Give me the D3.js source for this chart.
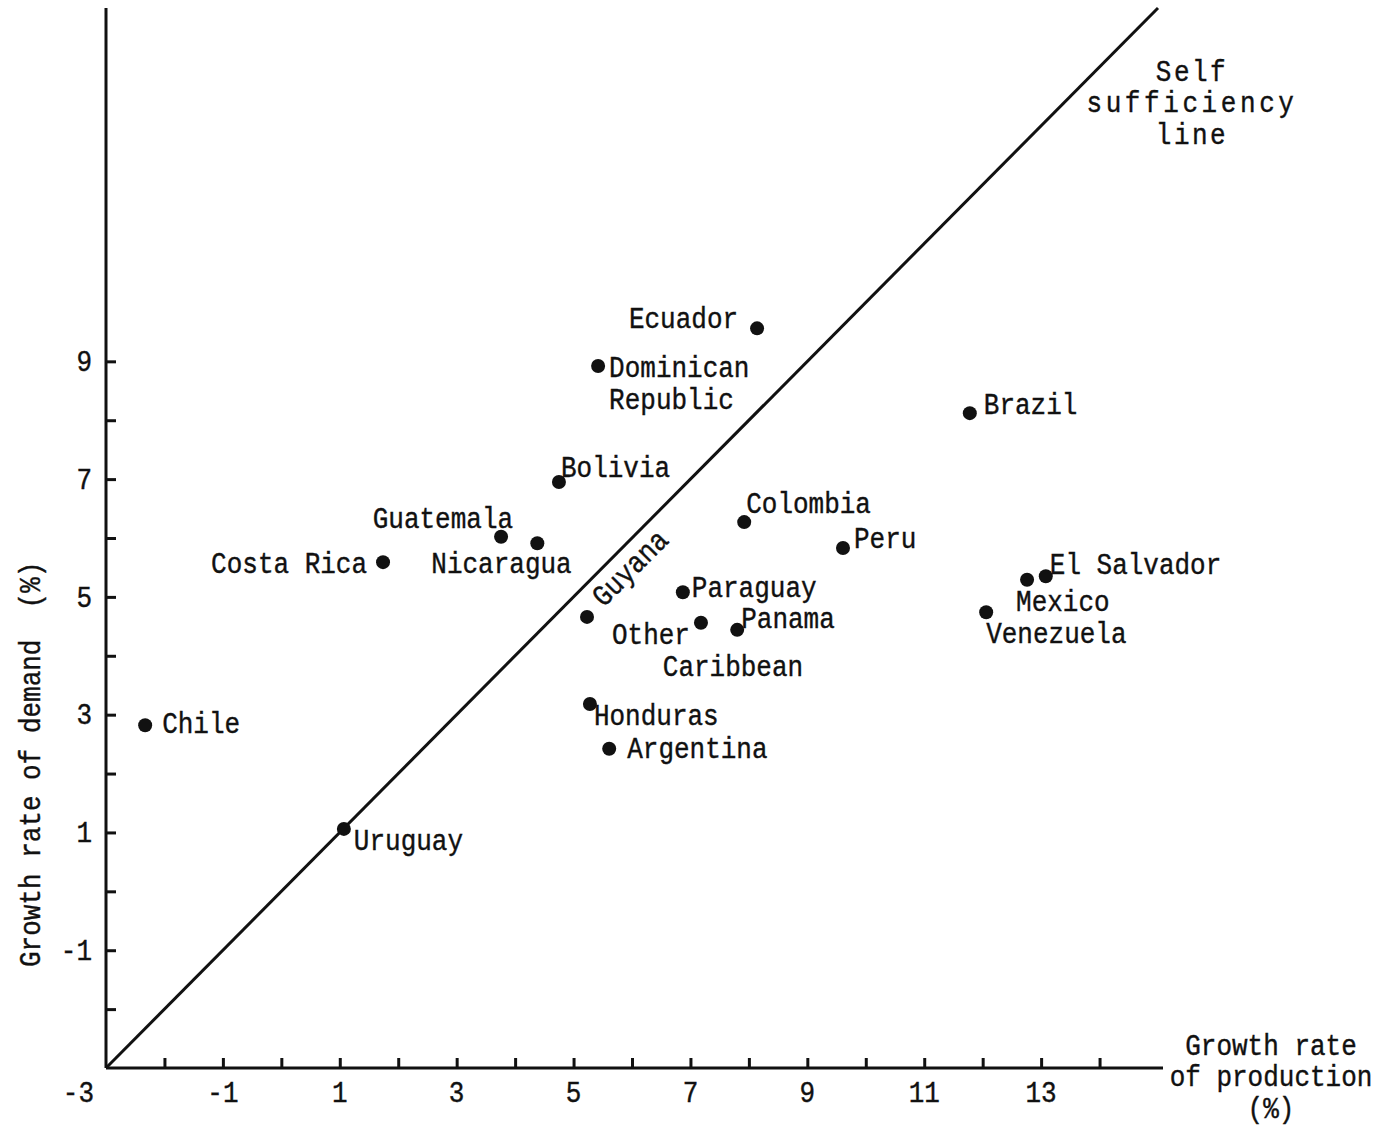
<!DOCTYPE html>
<html>
<head>
<meta charset="utf-8">
<script src="https://cdn.jsdelivr.net/npm/d3@7"></script>
<style>
  html, body { margin: 0; padding: 0; background: #fff; }
  svg { display: block; }
  text { font-family: "Liberation Mono", "DejaVu Sans Mono", monospace; fill: #111; stroke: #111; stroke-width: 0.35px; }
</style>
</head>
<body>
<svg id="chart" width="1383" height="1126"></svg>
<script>
// ---- data ----
const countries = ["Chile","Uruguay","Costa Rica","Guatemala","Nicaragua","Bolivia","Dominican\nRepublic","Ecuador","Guyana","Honduras","Argentina","Paraguay","Other\nCaribbean","Panama","Colombia","Peru","Brazil","Mexico","El Salvador","Venezuela"];
const production = [-2.33, 1.07, 1.74, 3.76, 4.38, 4.75, 5.42, 8.14, 5.23, 5.28, 5.61, 6.87, 7.18, 7.80, 7.92, 9.61, 11.78, 12.76, 13.08, 12.06];
const demand     = [ 2.82, 1.06, 5.59, 6.02, 5.91, 6.95, 8.92, 9.56, 4.66, 3.18, 2.42, 5.08, 4.56, 4.44, 6.27, 5.83, 8.12, 5.29, 5.35, 4.74];
const xTickLabels = [-3, -1, 1, 3, 5, 7, 9, 11, 13];
const yTickLabels = [-1, 1, 3, 5, 7, 9];
const xMinorTicks = d3.range(-2, 15);
const yMinorTicks = d3.range(-2, 10);
const selfSufficiency = [[-3, -3], [15, 15]];
const xTitle = ["Growth rate", "of production", "(%)"];
const yTitle = ["Growth rate of demand", "(%)"];
const lineTitle = ["Self", "sufficiency", "line"];

// ---- label placement (layout only, px offsets from the dot; dy = text centre) ----
const labelLayout = {
  "Chile":            {dx: 17,  dy: -2,  anchor: "start"},
  "Uruguay":          {dx: 10,  dy: 11,  anchor: "start"},
  "Costa Rica":       {dx: -16, dy: 1,   anchor: "end"},
  "Guatemala":        {dx: 12,  dy: -19, anchor: "end"},
  "Nicaragua":        {dx: -106,dy: 20,  anchor: "start"},
  "Bolivia":          {dx: 2,   dy: -15, anchor: "start"},
  "Dominican\nRepublic": {dx: 11, dy: 1, anchor: "start"},
  "Ecuador":          {dx: -19, dy: -10, anchor: "end"},
  "Guyana":           {dx: 43,  dy: -49, anchor: "middle", rotate: -45},
  "Honduras":         {dx: 4,   dy: 11,  anchor: "start"},
  "Argentina":        {dx: 18,  dy: -1,  anchor: "start"},
  "Paraguay":         {dx: 9,   dy: -5,  anchor: "start"},
  "Other\nCaribbean": {dx: -11, dy: 11,  anchor: "end", lineDx: [0, 43]},
  "Panama":           {dx: 4,   dy: -12, anchor: "start"},
  "Colombia":         {dx: 2,   dy: -19, anchor: "start"},
  "Peru":             {dx: 11,  dy: -10, anchor: "start"},
  "Brazil":           {dx: 14,  dy: -9,  anchor: "start"},
  "Mexico":           {dx: -11, dy: 21,  anchor: "start"},
  "El Salvador":      {dx: 4,   dy: -12, anchor: "start"},
  "Venezuela":        {dx: 0,   dy: 21,  anchor: "start"}
};

const FS = 26, SY = 1.15, LINE_H = 32;
const svg = d3.select("#chart");

const x = d3.scaleLinear().domain([-3, 15]).range([106, 1158]);
const y = d3.scaleLinear().domain([-3, 15]).range([1068, 8]);

function addText(parent, px, py, str, anchor, opts = {}) {
  const g = parent.append("g")
    .attr("transform", `translate(${px},${py})` + (opts.rotate ? ` rotate(${opts.rotate})` : "") + ` scale(1,${SY})`);
  g.append("text")
    .attr("x", 0)
    .attr("y", 8.5)
    .attr("text-anchor", anchor)
    .attr("font-size", FS)
    .attr("letter-spacing", opts.ls || 0)
    .text(str);
  return g;
}

// ---- axes ----
const xAxisTicks = d3.axisTop(x).tickValues(xMinorTicks).tickSize(10).tickSizeOuter(0).tickFormat("");
const gx = svg.append("g").attr("transform", `translate(0,${y(-3)})`).call(xAxisTicks);
gx.select(".domain").attr("d", `M${x(-3)},0H${x(15) + 5}`).attr("stroke", "#111").attr("stroke-width", 3);
gx.selectAll(".tick line").attr("stroke", "#111").attr("stroke-width", 3);

const yAxisTicks = d3.axisRight(y).tickValues(yMinorTicks).tickSize(10).tickSizeOuter(0).tickFormat("");
const gy = svg.append("g").attr("transform", `translate(${x(-3)},0)`).call(yAxisTicks);
gy.select(".domain").attr("d", `M0,${y(15)}V${y(-3)}`).attr("stroke", "#111").attr("stroke-width", 3);
gy.selectAll(".tick line").attr("stroke", "#111").attr("stroke-width", 3);

// tick labels
const xl = svg.append("g");
xTickLabels.forEach(v => {
  if (v === -3) addText(xl, x(v) - 12, 1092, "-3", "end");
  else addText(xl, x(v), 1092, String(v), "middle");
});
const yl = svg.append("g");
yTickLabels.forEach(v => addText(yl, x(-3) - 14, y(v), String(v), "end"));

// ---- self-sufficiency line ----
svg.append("path")
  .attr("d", d3.line().x(d => x(d[0])).y(d => y(d[1]))(selfSufficiency))
  .attr("stroke", "#111").attr("stroke-width", 3).attr("fill", "none");

// ---- points ----
const pts = countries.map((c, i) => ({name: c, px: production[i], py: demand[i]}));
svg.append("g").selectAll("circle").data(pts).join("circle")
  .attr("cx", d => x(d.px)).attr("cy", d => y(d.py)).attr("r", 7).attr("fill", "#111");

// ---- point labels ----
const lg = svg.append("g");
pts.forEach(d => {
  const L = labelLayout[d.name];
  const lines = d.name.split("\n");
  lines.forEach((ln, k) => {
    const extra = L.lineDx ? L.lineDx[k] : 0;
    addText(lg, x(d.px) + L.dx + extra, y(d.py) + L.dy + k * LINE_H, ln, (L.lineDx && k > 0) ? "middle" : L.anchor, {rotate: L.rotate});
  });
});

// ---- titles ----
const tg = svg.append("g");
xTitle.forEach((t, k) => addText(tg, 1271, 1045 + k * 31.5, t, "middle"));
lineTitle.forEach((t, k) => addText(tg, 1192, 71 + k * 31.5, t, "middle", {ls: k === 1 ? 3.6 : 2.5}));
addText(tg, 30, 967, yTitle[0], "start", {rotate: -90});
addText(tg, 30, 585, yTitle[1], "middle", {rotate: -90});
</script>
</body>
</html>
